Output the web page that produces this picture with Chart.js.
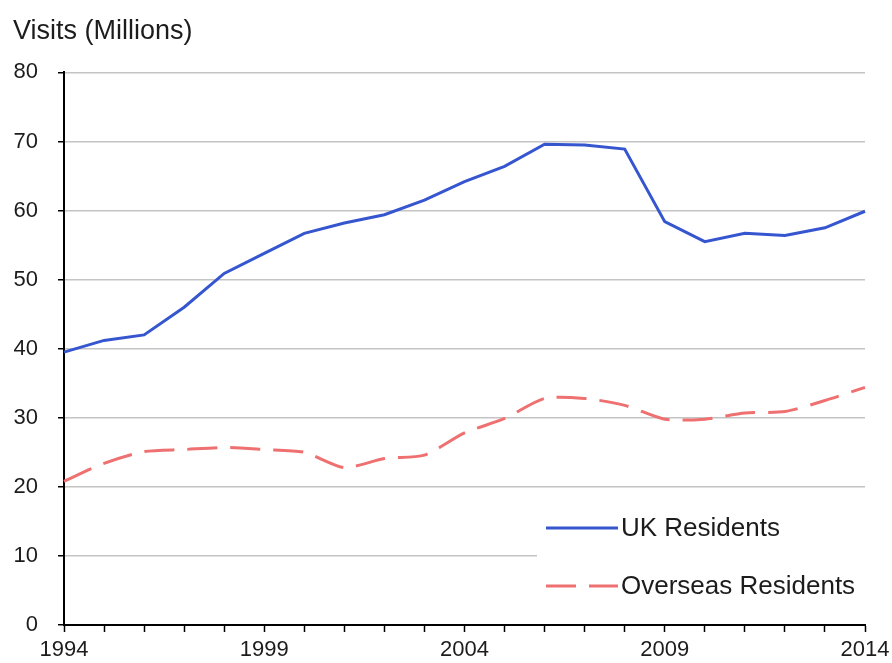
<!DOCTYPE html>
<html>
<head>
<meta charset="utf-8">
<script src="https://cdn.jsdelivr.net/npm/chart.js@4.4.1/dist/chart.umd.min.js"></script>
<style>
  html, body { margin: 0; padding: 0; background: #fff; }
</style>
</head>
<body>
<canvas id="visitsChart" width="892" height="663"></canvas>
<script>
// data
const years = ['1994', '1995', '1996', '1997', '1998', '1999', '2000', '2001', '2002', '2003', '2004',
               '2005', '2006', '2007', '2008', '2009', '2010', '2011', '2012', '2013', '2014'];
const xTickLabels = ['1994', '1999', '2004', '2009', '2014'];
const yTicks = [0, 10, 20, 30, 40, 50, 60, 70, 80];
const ukResidents = [39.5, 41.2, 42.0, 46.0, 50.9, 53.8, 56.7, 58.2, 59.4, 61.5, 64.2,
                     66.4, 69.6, 69.5, 68.9, 58.4, 55.5, 56.7, 56.4, 57.5, 59.9];
const overseasResidents = [20.8, 23.4, 25.1, 25.4, 25.7, 25.4, 25.0, 22.8, 24.1, 24.6, 27.8,
                           29.9, 32.8, 32.8, 31.8, 29.8, 29.8, 30.7, 30.9, 32.5, 34.4];

const font = "'Liberation Sans', Arial, sans-serif";
const textColor = '#1c1c1c';

// legend sits inside the plot, bottom right, on a white box
const insideLegend = {
  id: 'insideLegend',
  afterDatasetsDraw(chart) {
    const ctx = chart.ctx;
    ctx.save();
    ctx.fillStyle = '#fff';
    ctx.fillRect(537, 500, 355, 110);
    const rows = [528, 586];
    chart.data.datasets.forEach((ds, i) => {
      const y = rows[i];
      ctx.beginPath();
      ctx.strokeStyle = ds.borderColor;
      ctx.lineWidth = ds.borderWidth;
      ctx.setLineDash(ds.borderDash || []);
      ctx.moveTo(546, y);
      ctx.lineTo(618, y);
      ctx.stroke();
      ctx.setLineDash([]);
      ctx.fillStyle = textColor;
      ctx.font = '26px ' + font;
      ctx.textBaseline = 'middle';
      ctx.fillText(ds.label, 621, y + 1);
    });
    ctx.restore();
  }
};

const ctx = document.getElementById('visitsChart').getContext('2d');

new Chart(ctx, {
  type: 'line',
  data: {
    labels: years,
    datasets: [{
      label: 'UK Residents',
      data: ukResidents,
      borderColor: '#3656d0',
      borderWidth: 3,
      pointRadius: 0,
      tension: 0
    }, {
      label: 'Overseas Residents',
      data: overseasResidents,
      borderColor: '#ef7070',
      borderWidth: 3,
      borderDash: [30, 13],
      pointRadius: 0,
      tension: 0.25
    }]
  },
  options: {
    responsive: false,
    animation: false,
    layout: { padding: { left: 13, right: 27, top: 0, bottom: 0 } },
    plugins: {
      legend: { display: false },
      tooltip: { enabled: false },
      title: {
        display: true,
        text: 'Visits (Millions)',
        align: 'start',
        color: textColor,
        font: { family: font, size: 27, weight: 'normal', lineHeight: 1.2 },
        padding: { top: 15, bottom: 25 }
      }
    },
    scales: {
      x: {
        offset: false,
        border: { color: '#000', width: 2 },
        grid: { drawOnChartArea: false, tickColor: '#000', tickLength: 7, tickWidth: 1.5 },
        ticks: {
          autoSkip: false,
          maxRotation: 0,
          padding: 5,
          color: textColor,
          font: { family: font, size: 22 },
          callback: function (value) {
            const lab = this.getLabelForValue(value);
            return xTickLabels.includes(lab) ? lab : '';
          }
        },
        afterFit(scale) {
          scale.height = 38;
          scale.paddingLeft = 0;
          scale.paddingRight = 0;
        }
      },
      y: {
        min: yTicks[0],
        max: yTicks[yTicks.length - 1],
        border: { color: '#000', width: 2 },
        grid: { color: '#c4c4c4', lineWidth: 1.5, tickColor: '#000', tickLength: 6, tickWidth: 1.5 },
        ticks: {
          stepSize: 10,
          padding: 20,
          color: textColor,
          font: { family: font, size: 22 }
        },
        afterFit(scale) { scale.width = 51; }
      }
    }
  },
  plugins: [insideLegend]
});
</script>
</body>
</html>
